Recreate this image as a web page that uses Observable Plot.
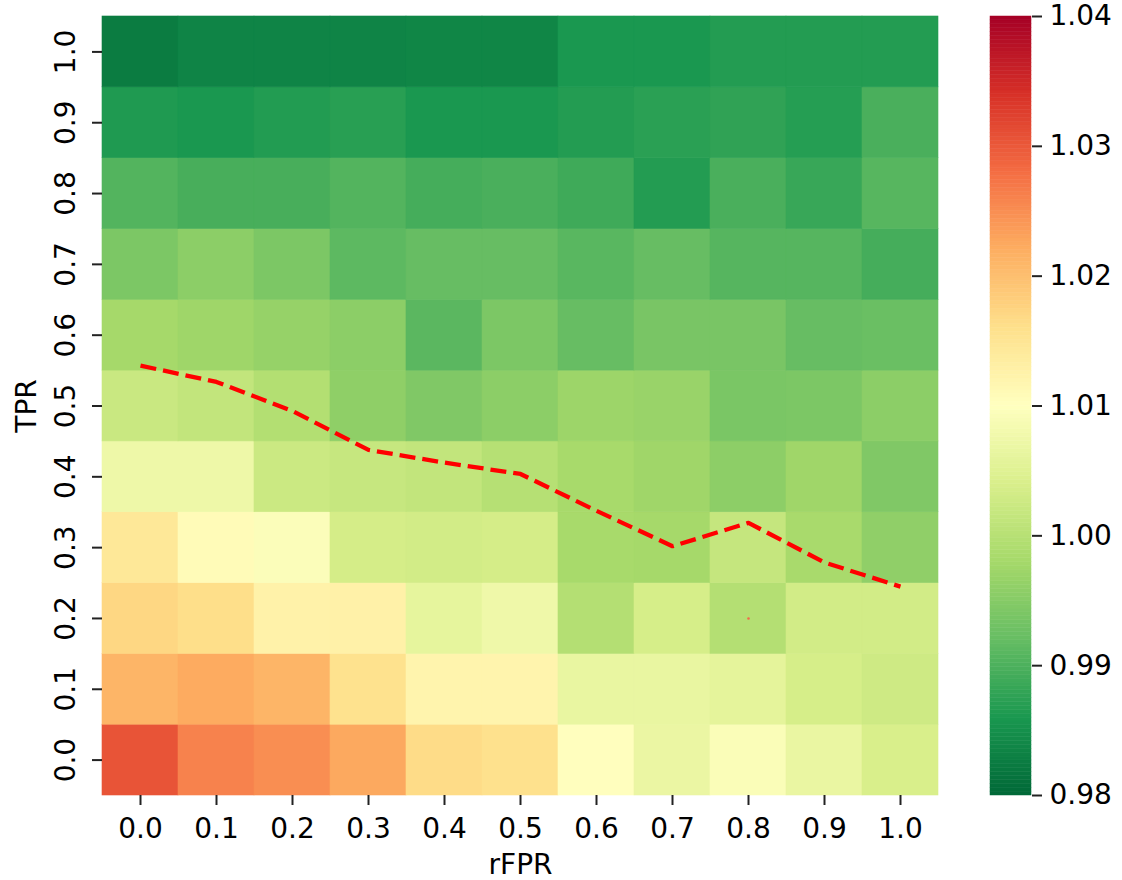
<!DOCTYPE html>
<html><head><meta charset="utf-8">
<script src="https://cdn.jsdelivr.net/npm/d3@7"></script>
<script src="https://cdn.jsdelivr.net/npm/@observablehq/plot@0.6"></script>
<style>
body{margin:0;background:#fff;}
#wrap{display:flex;width:1122px;height:880px;overflow:hidden;}
svg{font-family:"DejaVu Sans",sans-serif;}
</style></head><body><div id="wrap"></div>
<script>
// categories / tick labels
const rFPR = [0.0, 0.1, 0.2, 0.3, 0.4, 0.5, 0.6, 0.7, 0.8, 0.9, 1.0];
const TPR  = [0.0, 0.1, 0.2, 0.3, 0.4, 0.5, 0.6, 0.7, 0.8, 0.9, 1.0];
const colorTicks = [0.98, 0.99, 1.00, 1.01, 1.02, 1.03, 1.04];

// heatmap values, one array per TPR row (columns = rFPR 0.0 .. 1.0)
const tpr00 = [1.0305, 1.0261, 1.0250, 1.0225, 1.0165, 1.0158, 1.0101, 1.0068, 1.0092, 1.0067, 1.0040];
const tpr01 = [1.0212, 1.0223, 1.0212, 1.0156, 1.0121, 1.0121, 1.0065, 1.0065, 1.0059, 1.0037, 1.0027];
const tpr02 = [1.0171, 1.0161, 1.0125, 1.0127, 1.0061, 1.0075, 0.9997, 1.0036, 0.9997, 1.0032, 1.0032];
const tpr03 = [1.0145, 1.0108, 1.0094, 1.0035, 1.0032, 1.0035, 0.9982, 0.9980, 1.0016, 0.9984, 0.9959];
const tpr04 = [1.0073, 1.0073, 1.0024, 1.0018, 1.0013, 0.9999, 0.9982, 0.9974, 0.9957, 0.9974, 0.9944];
const tpr05 = [1.0021, 1.0013, 0.9995, 0.9958, 0.9944, 0.9956, 0.9972, 0.9968, 0.9939, 0.9941, 0.9956];
const tpr06 = [0.9980, 0.9973, 0.9965, 0.9956, 0.9911, 0.9941, 0.9921, 0.9938, 0.9938, 0.9921, 0.9924];
const tpr07 = [0.9941, 0.9956, 0.9941, 0.9913, 0.9921, 0.9921, 0.9910, 0.9921, 0.9907, 0.9907, 0.9894];
const tpr08 = [0.9905, 0.9896, 0.9896, 0.9905, 0.9894, 0.9898, 0.9889, 0.9867, 0.9898, 0.9884, 0.9908];
const tpr09 = [0.9864, 0.9860, 0.9866, 0.9871, 0.9860, 0.9860, 0.9867, 0.9873, 0.9877, 0.9869, 0.9898];
const tpr10 = [0.9825, 0.9835, 0.9835, 0.9835, 0.9837, 0.9837, 0.9860, 0.9860, 0.9867, 0.9867, 0.9867];

// red dashed curve: TPR value at each rFPR
const curveTPR = [0.557, 0.534, 0.493, 0.438, 0.420, 0.404, 0.352, 0.302, 0.335, 0.279, 0.245];
// tiny stray marker
const strayRFPR = [0.8];
const strayTPR = [0.2];

// colormap stops (RdYlGn reversed)
const cmapColors = ["#006837","#1a9850","#66bd63","#a6d96a","#d9ef8b","#ffffbf","#fee08b","#fdae61","#f46d43","#d73027","#a50026"];
const cmapMin = 0.98, cmapMax = 1.04;

const rows = [tpr00, tpr01, tpr02, tpr03, tpr04, tpr05, tpr06, tpr07, tpr08, tpr09, tpr10];
const cells = TPR.flatMap((t, i) => rFPR.map((f, j) => ({f, t, v: rows[i][j]})));
const curve = rFPR.map((f, i) => ({f, t: curveTPR[i]}));
const stray = strayRFPR.map((f, i) => ({f, t: strayTPR[i]}));

const cmapDomain = cmapColors.map((_, i) => cmapMin + i * (cmapMax - cmapMin) / (cmapColors.length - 1));
const colorOpts = {type: "linear", domain: cmapDomain, range: cmapColors, interpolate: "rgb", clamp: true};
const half = 0.05;
const font = {fontFamily: "DejaVu Sans, sans-serif", fontSize: "28px", color: "#000", background: "#fff", overflow: "visible"};

const main = Plot.plot({
  width: 960, height: 880,
  marginLeft: 102, marginRight: 22, marginTop: 16, marginBottom: 85,
  style: font,
  x: {domain: [-0.05, 1.05]},
  y: {domain: [-0.05, 1.05]},
  color: colorOpts,
  marks: [
    Plot.rect(cells, {x1: d => d.f - half, x2: d => d.f + half, y1: d => d.t - half, y2: d => d.t + half, fill: "v", stroke: "v", strokeWidth: 0.6}),
    Plot.line(curve, {x: "f", y: "t", stroke: "#ff0000", strokeWidth: 4.3, strokeDasharray: "16,7", strokeLinecap: "butt"}),
    Plot.dot(stray, {x: "f", y: "t", r: 1.3, fill: "#f26b4a", stroke: null}),
    Plot.axisX(rFPR, {tickSize: 10, tickPadding: 13, strokeWidth: 2, stroke: "#222", tickFormat: d3.format(".1f"),
      label: "rFPR", labelAnchor: "center", labelOffset: 78, labelArrow: "none"}),
    Plot.axisY(TPR, {tickSize: 10, tickPadding: 18, tickRotate: -90, strokeWidth: 2, stroke: "#222", tickFormat: d3.format(".1f"),
      label: "TPR", labelAnchor: "center", labelOffset: 86, labelArrow: "none"})
  ]
});

const step = 0.0003;
const ramp = d3.range(cmapMin, cmapMax - step / 2, step);
const cbar = Plot.plot({
  width: 162, height: 880,
  marginLeft: 30, marginRight: 91, marginTop: 16, marginBottom: 85,
  style: font,
  x: {domain: [0, 1], axis: null},
  y: {domain: [cmapMin, cmapMax]},
  color: colorOpts,
  marks: [
    Plot.rect(ramp, {x1: 0, x2: 1, y1: d => d, y2: d => Math.min(cmapMax, d + step), fill: d => d + step / 2, stroke: d => d + step / 2, strokeWidth: 0.5}),
    Plot.axisY(colorTicks, {anchor: "right", tickSize: 10, tickPadding: 8, strokeWidth: 2, stroke: "#222", tickFormat: d3.format(".2f"), label: null})
  ]
});

const wrap = document.getElementById("wrap");
wrap.appendChild(main);
wrap.appendChild(cbar);
</script>
</body></html>
